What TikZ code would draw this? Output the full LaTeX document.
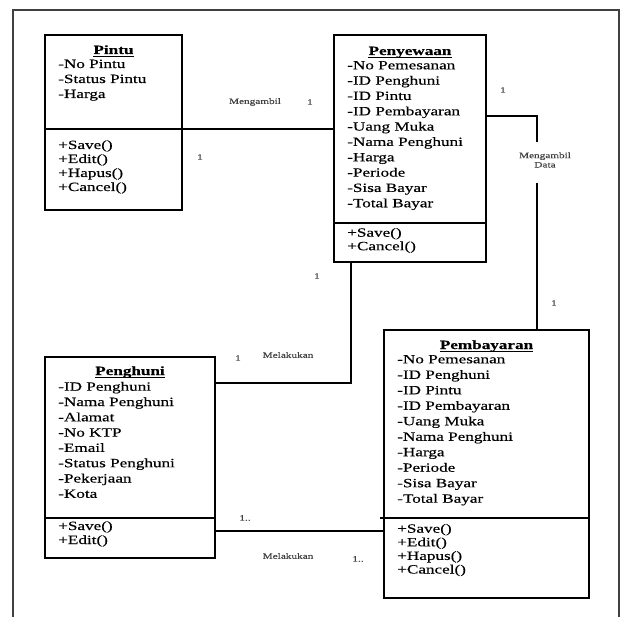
\documentclass[tikz,border=0pt]{standalone}
\usepackage{fontspec}
\setmainfont{Liberation Serif}[FakeStretch=1.36, FakeBold=0.35]
\newcommand\attrfont{\fontsize{9.45pt}{11pt}\selectfont}
\newcommand\lblfont{\fontsize{6.2pt}{7pt}\selectfont}
\tikzset{
  classbox/.style={draw=black, line width=0.9pt, inner sep=0pt, outer sep=0pt},
  divider/.style={draw=black, line width=0.9pt},
  link/.style={draw=black, line width=0.9pt},
  attr/.style={anchor=base west, inner sep=0pt, font=\attrfont},
  ctitle/.style={anchor=base, inner sep=0pt, font=\attrfont\bfseries},
  uline/.style={draw=black, line width=0.6pt},
  lbl/.style={inner sep=0pt, font=\lblfont, text=black!75},
  frame/.style={draw=black!75, line width=1.1pt}
}
\begin{document}
\begin{tikzpicture}[x=0.75pt, y=-0.75pt]
\useasboundingbox (0,0) rectangle (623,616);

% outer frame (runs off the bottom edge)
\draw[frame] (13,630) -- (13,10) -- (619,10) -- (619,630);

% class boxes
\node[classbox, minimum width=102.75pt, minimum height=131.25pt] (pintu) at (113.5,122.5) {};
\node[classbox, minimum width=114pt, minimum height=170.25pt] (penyewaan) at (410,148.5) {};
\node[classbox, minimum width=127.5pt, minimum height=150.75pt] (penghuni) at (130,457.5) {};
\node[classbox, minimum width=153.75pt, minimum height=201pt] (pembayaran) at (486.5,464) {};

% compartment dividers
\draw[divider] (pintu.west |- 0,129) -- (pintu.east |- 0,129);
\draw[divider] (penyewaan.west |- 0,223) -- (penyewaan.east |- 0,223);
\draw[divider] (penghuni.west |- 0,518) -- (penghuni.east |- 0,518);
\draw[divider] ([xshift=-3pt]pembayaran.west |- 0,518) -- (pembayaran.east |- 0,518);

% titles
\node[ctitle] (tpintu) at (pintu.center |- 0,54) {Pintu};
\node[ctitle] (tpenyewaan) at (penyewaan.center |- 0,55) {Penyewaan};
\node[ctitle] (tpenghuni) at (penghuni.center |- 0,375) {Penghuni};
\node[ctitle] (tpembayaran) at (pembayaran.center |- 0,349) {Pembayaran};
\foreach \t in {tpintu,tpenyewaan,tpenghuni,tpembayaran}
  \draw[uline] ([yshift=-1.6pt]\t.base west) -- ([yshift=-1.6pt]\t.base east);

% Pintu
\foreach \s [count=\i from 0] in {-No Pintu,-Status Pintu,-Harga}
  \node[attr] (pa\i) at (58,{68+15*\i}) {\s};
\foreach \s [count=\i from 0] in {+Save(),+Edit(),+Hapus(),+Cancel()}
  \node[attr] (pm\i) at (58,{149+14*\i}) {\s};

% Penyewaan
\foreach \s [count=\i from 0] in {-No Pemesanan,-ID Penghuni,-ID Pintu,-ID Pembayaran,-Uang Muka,-Nama Penghuni,-Harga,-Periode,-Sisa Bayar,-Total Bayar}
  \node[attr] (sa\i) at (347,{69.3+15.33*\i}) {\s};
\foreach \s [count=\i from 0] in {+Save(),+Cancel()}
  \node[attr] (sm\i) at (347,{236.7+13.5*\i}) {\s};

% Penghuni
\foreach \s [count=\i from 0] in {-ID Penghuni,-Nama Penghuni,-Alamat,-No KTP,-Email,-Status Penghuni,-Pekerjaan,-Kota}
  \node[attr] (ha\i) at (58,{390.7+15.3*\i}) {\s};
\foreach \s [count=\i from 0] in {+Save(),+Edit()}
  \node[attr] (hm\i) at (58,{530+14*\i}) {\s};

% Pembayaran
\foreach \s [count=\i from 0] in {-No Pemesanan,-ID Penghuni,-ID Pintu,-ID Pembayaran,-Uang Muka,-Nama Penghuni,-Harga,-Periode,-Sisa Bayar,-Total Bayar}
  \node[attr] (ba\i) at (397,{363.3+15.49*\i}) {\s};
\foreach \s [count=\i from 0] in {+Save(),+Edit(),+Hapus(),+Cancel()}
  \node[attr] (bm\i) at (397,{532.7+13.6*\i}) {\s};

% bend points of the associations
\coordinate (r1) at (537,116);
\coordinate (r2) at (537,142);
\coordinate (r3) at (537,183);
\coordinate (d1) at (351,383);

% associations
\draw[link] (pintu.east |- 0,129) -- (penyewaan.west |- 0,129);
\draw[link] (penyewaan.east |- r1) -- (r1) -- (r2);
\draw[link] (r3) -- (pembayaran.north -| r3);
\draw[link] (penyewaan.south -| d1) -- (d1) -- (penghuni.east |- d1);
\draw[link] (penghuni.east |- 0,531) -- (pembayaran.west |- 0,531);

% association labels and multiplicities
\node[lbl] (l1) at (255,102) {Mengambil};
\node[lbl] (m1) at (310,102) {1};
\node[lbl] (m2) at (200,157) {1};
\node[lbl] (m3) at (503,90) {1};
\node[lbl, align=center] (l2) at (545,160) {Mengambil\\Data};
\node[lbl] (m4) at (554,303) {1};
\node[lbl] (m5) at (317,276) {1};
\node[lbl] (m6) at (238,358) {1};
\node[lbl] (l3) at (288,355) {Melakukan};
\node[lbl] (m7) at (245,518) {1..};
\node[lbl] (l4) at (288,556) {Melakukan};
\node[lbl] (m8) at (358,559) {1..};
\end{tikzpicture}
\end{document}
